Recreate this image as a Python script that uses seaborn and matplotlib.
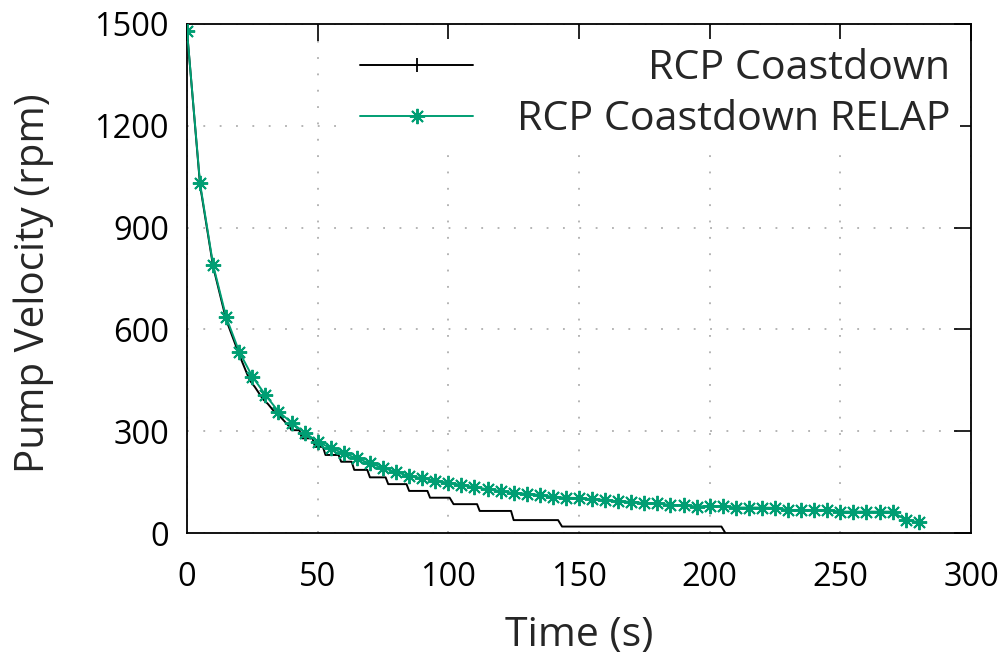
import matplotlib
matplotlib.use("Agg")
import matplotlib.pyplot as plt
from matplotlib.lines import Line2D
import seaborn as sns
import pandas as pd

# Measured coastdown (step-like, quantised speed signal)
meas_time = [0, 5, 10, 15, 20, 24, 26, 29, 31, 34, 36, 39, 40, 43, 44, 48, 49, 52,
             53, 58, 59, 63, 64, 69, 70, 76, 77, 84, 85, 92, 93, 100.5, 102, 111,
             112, 124, 125, 142, 143.5, 204.5, 206]
meas_rpm = [1480, 1025, 785, 628, 525, 450, 430, 395, 380, 352, 340, 315, 303, 303,
            279, 279, 254, 254, 230, 230, 210, 210, 186, 186, 164, 164, 144, 144,
            124, 124, 104, 104, 85, 85, 65, 65, 38, 38, 19, 19, 0]

# RELAP simulation output, every 5 s
relap_time = list(range(0, 285, 5))
relap_rpm = [1480, 1030, 790, 636, 534, 461, 407, 358, 325, 296,
             269, 250, 235, 220, 205, 192, 179, 168, 162, 154,
             148, 142, 135, 129, 124, 118, 116, 112, 107, 104,
             103, 99, 98, 93, 92, 88, 87, 83, 82, 78,
             80, 79, 75, 75, 75, 74, 68, 68, 68, 68,
             63, 63, 63, 63, 63, 38, 32]

series_labels = ["RCP Coastdown", "RCP Coastdown RELAP"]
x_ticks = [0, 50, 100, 150, 200, 250, 300]
y_ticks = [0, 300, 600, 900, 1200, 1500]

GREEN = "#009e73"
FONT = ["Open Sans", "DejaVu Sans"]

sns.set_style("white")
plt.rcParams["font.family"] = FONT

meas = pd.DataFrame({"t": meas_time, "rpm": meas_rpm})
relap = pd.DataFrame({"t": relap_time, "rpm": relap_rpm})

fig = plt.figure(figsize=(10.08, 6.6), dpi=100)
ax = fig.add_axes([187 / 1008, 1 - 533 / 660, 784 / 1008, 509 / 660])

sns.lineplot(data=meas, x="t", y="rpm", ax=ax, color="black", linewidth=1.4,
             estimator=None, sort=False, zorder=3)
sns.lineplot(data=relap, x="t", y="rpm", ax=ax, color=GREEN, linewidth=1.4,
             marker=(8, 2, 0), markersize=11, markeredgewidth=1.4,
             markeredgecolor=GREEN, markerfacecolor=GREEN,
             estimator=None, sort=False, zorder=4)

ax.set_xlim(0, 300)
ax.set_ylim(0, 1500)
ax.set_xticks(x_ticks)
ax.set_yticks(y_ticks)
ax.tick_params(axis="both", which="major", direction="in", length=12, width=1.2,
               top=True, right=True, labelsize=23.5, colors="black")
ax.tick_params(axis="x", pad=20)
ax.tick_params(axis="y", pad=13)
for s in ax.spines.values():
    s.set_color("black")
    s.set_linewidth(1.3)

ax.grid(True, color="#a0a0a0", linewidth=1.1, linestyle=(0, (1.2, 9.5)))
ax.set_axisbelow(True)

ax.set_xlabel("Time (s)", fontsize=29.5)
ax.set_ylabel("Pump Velocity (rpm)", fontsize=29)
ax.xaxis.set_label_coords(0.5, -0.163)
ax.yaxis.set_label_coords(-0.17, 0.49)

handles = [
    Line2D([], [], color="black", linewidth=1.4, marker="|", markersize=10,
           markeredgewidth=1.3),
    Line2D([], [], color=GREEN, linewidth=1.4, marker=(8, 2, 0), markersize=11,
           markeredgewidth=1.4, markeredgecolor=GREEN),
]
leg = ax.legend(handles=handles, labels=series_labels, loc="upper right",
                bbox_to_anchor=((981 - 187) / 784, (533 - 18) / 509),
                fontsize=29.7, handlelength=2.75, handletextpad=1.05,
                labelspacing=0.25, borderpad=0.25, frameon=True, fancybox=False,
                framealpha=1, facecolor="white", edgecolor="none")
leg.set_zorder(5)

# right-justify the legend labels while keeping the samples in one column
fig.canvas.draw()
renderer = fig.canvas.get_renderer()
widths = [t.get_window_extent(renderer).width for t in leg.get_texts()]
wmax = max(widths)
px_per_pt = fig.dpi / 72.0
for col in leg._legend_handle_box.get_children():
    for item, w in zip(col.get_children(), widths):
        item.sep += (wmax - w) / px_per_pt

fig.savefig("out.png", dpi=100)
